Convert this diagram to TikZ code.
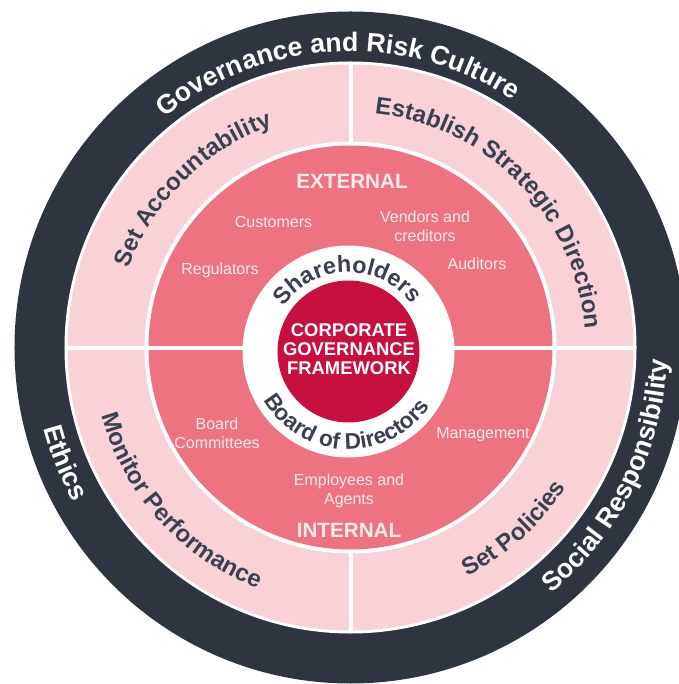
\documentclass[tikz,border=0pt]{standalone}
\usepackage{fontspec}
\setmainfont{Liberation Sans}
\usetikzlibrary{decorations.text}

\definecolor{ringdark}{RGB}{46,53,64}
\definecolor{ringlight}{RGB}{248,210,214}
\definecolor{ringmid}{RGB}{237,115,128}
\definecolor{corered}{RGB}{200,16,62}
\definecolor{slatetext}{RGB}{58,64,82}
\definecolor{softwhite}{RGB}{253,234,237}

\tikzset{
  curvetext/.style 2 args={decorate, decoration={text along path, text align=center,
      text color=#1, text={#2}}},
  smalllabel/.style={text=softwhite, font=\fontsize{12}{14}\selectfont, align=center, inner sep=0pt},
  biglabel/.style={text=softwhite, font=\bfseries\fontsize{15.5}{18}\selectfont, inner sep=0pt}
}

\begin{document}
\begin{tikzpicture}[x=0.75pt,y=0.75pt]
\useasboundingbox (-350.5,-336.5) rectangle (327.5,347.5);
\coordinate (ctr) at (0,0);
\coordinate (hub) at (-2,-4);

%Shape: Circle (outer ring)
\fill [ringdark] (ctr) circle [radius=336];
\fill [white] (ctr) circle [radius=286];
%Shape: Circle (four tasks)
\fill [ringlight] (ctr) circle [radius=283];
\fill [white] (ctr) circle [radius=206];
%Shape: Circle (stakeholders)
\fill [ringmid] (ctr) circle [radius=202];
%Straight Lines
\draw [white, line width=3pt] (-284,-1) -- (284,-1);
\draw [white, line width=3pt] (0,203) -- (0,284);
\draw [white, line width=3pt] (0,-203) -- (0,-284);
%Shape: Circle (board ring)
\fill [white] (hub) circle [radius=106];
\fill [corered] (hub) circle [radius=71];

% Curved Text (outer ring)
\path [curvetext={white}{|\bfseries\fontsize{20}{24}\selectfont|Governance and Risk Culture}]
  (ctr) ++(162.8:296) arc [start angle=162.8, end angle=22.8, radius=296];
\path [curvetext={white}{|\bfseries\fontsize{20}{24}\selectfont|Ethics}]
  (ctr) ++(162:317) arc [start angle=162, end angle=242, radius=317];
\path [curvetext={white}{|\bfseries\fontsize{20}{24}\selectfont|Social Responsibility}]
  (ctr) ++(-96.5:317) arc [start angle=-96.5, end angle=43.5, radius=317];

% Curved Text (tasks)
\path [curvetext={slatetext}{|\bfseries\fontsize{18}{22}\selectfont|Set Accountability}]
  (ctr) ++(194.9:235) arc [start angle=194.9, end angle=74.9, radius=235];
\path [curvetext={slatetext}{|\bfseries\fontsize{18}{22}\selectfont|Establish Strategic Direction}]
  (ctr) ++(114.25:235) arc [start angle=114.25, end angle=-25.75, radius=235];
\path [curvetext={slatetext}{|\bfseries\fontsize{18}{22}\selectfont|Monitor Performance}]
  (ctr) ++(162.1:258) arc [start angle=162.1, end angle=282.1, radius=258];
\path [curvetext={slatetext}{|\bfseries\fontsize{18}{22}\selectfont|Set Policies}]
  (ctr) ++(-107.9:257) arc [start angle=-107.9, end angle=12.1, radius=257];

% Curved Text (board ring)
\path [curvetext={slatetext}{|\bfseries\fontsize{17.5}{21}\selectfont|Shareholders}]
  (hub) ++(171:79) arc [start angle=171, end angle=11, radius=79];
\path [curvetext={slatetext}{|\bfseries\fontsize{17}{21}\selectfont|Board of Directors}]
  (hub) ++(178:98) arc [start angle=178, end angle=358, radius=98];

% Text Node
\node [biglabel] (external) at (1.5,166.5) {EXTERNAL};
% Text Node
\node [biglabel] (internal) at (-1.5,-182.5) {INTERNAL};
% Text Node
\node [smalllabel] (customers) at (-77,125.5) {Customers};
% Text Node
\node [smalllabel] (regulators) at (-130.5,77.5) {Regulators};
% Text Node
\node [smalllabel] (vendors) at (74.5,121) {Vendors and\\creditors};
% Text Node
\node [smalllabel] (auditors) at (126.5,83.5) {Auditors};
% Text Node
\node [smalllabel] (committees) at (-133.5,-85.5) {Board\\Committees};
% Text Node
\node [smalllabel] (management) at (132.5,-87.5) {Management};
% Text Node
\node [smalllabel] (employees) at (-1.5,-143.5) {Employees and\\Agents};
% Text Node
\node [text=white, font=\bfseries\fontsize{13.8}{14.3}\selectfont, align=center, inner sep=0pt]
  (framework) at (-1.5,-1.5) {CORPORATE\\GOVERNANCE\\FRAMEWORK};

\end{tikzpicture}
\end{document}
